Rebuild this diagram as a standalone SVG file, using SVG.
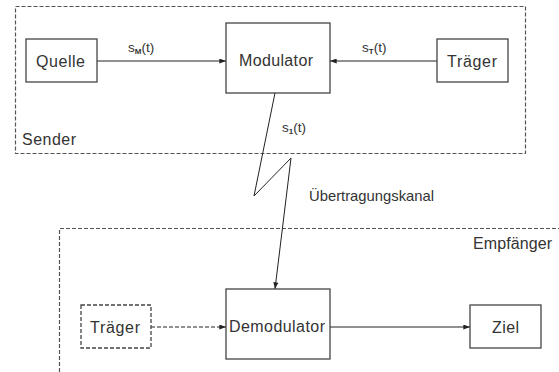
<svg xmlns="http://www.w3.org/2000/svg" width="559" height="372" viewBox="0 0 559 372">
<style>
.box{fill:#fff;stroke:#444;stroke-width:1.3}
.dbox{fill:#fff;stroke:#444;stroke-width:1.3;stroke-dasharray:4 2}
.frame{fill:none;stroke:#555;stroke-width:1.2;stroke-dasharray:4 2}
.lbl{font-family:"Liberation Sans",Arial,sans-serif;font-size:16px;fill:#333}
.sm{font-family:"Liberation Sans",Arial,sans-serif;font-size:13.5px;fill:#333}
.ch{font-family:"Liberation Sans",Arial,sans-serif;font-size:14.8px;fill:#333}
.sub{font-size:8px;font-weight:bold}
.ln{fill:none;stroke:#222;stroke-width:1}
.dl{fill:none;stroke:#222;stroke-width:1;stroke-dasharray:4 2}
</style>
<defs>
<marker id="ah" viewBox="0 0 8 6" refX="8" refY="3" markerWidth="7" markerHeight="5" orient="auto" markerUnits="userSpaceOnUse">
<path d="M0,0 L8,3 L0,6 z" fill="#222"/>
</marker>
</defs>
<rect width="559" height="372" fill="#fff"/>
<g id="sender">
<rect class="frame" x="15.5" y="6.5" width="510" height="147"/>
<text class="lbl" x="22" y="145" textLength="54">Sender</text>
</g>
<g id="empfaenger">
<path class="frame" d="M59.5,372 V228.5 H559"/>
<text class="lbl" x="473" y="249" textLength="79">Empfänger</text>
</g>
<g id="connectors">
<line class="ln" x1="97" y1="61" x2="226" y2="61" marker-end="url(#ah)"/>
<line class="ln" x1="437" y1="61" x2="330" y2="61" marker-end="url(#ah)"/>
<polyline class="ln" points="275,93 254,196 291,158 275,289" marker-end="url(#ah)"/>
<line class="dl" x1="151" y1="327" x2="226" y2="327" marker-end="url(#ah)"/>
<line class="ln" x1="330" y1="327" x2="470" y2="327" marker-end="url(#ah)"/>
<text class="sm" x="128" y="52">s<tspan class="sub" dy="2">M</tspan><tspan dy="-2">(t)</tspan></text>
<text class="sm" x="362" y="52">s<tspan class="sub" dy="2">T</tspan><tspan dy="-2">(t)</tspan></text>
<text class="sm" x="282" y="132">s<tspan class="sub" dy="2">1</tspan><tspan dy="-2">(t)</tspan></text>
<text class="ch" x="309" y="201" textLength="125">Übertragungskanal</text>
</g>
<g id="quelle">
<rect class="box" x="26" y="39" width="71" height="43"/>
<text class="lbl" x="36" y="67" textLength="49">Quelle</text>
</g>
<g id="modulator">
<rect class="box" x="226" y="23" width="104" height="70"/>
<text class="lbl" x="239" y="66" textLength="74">Modulator</text>
</g>
<g id="traeger1">
<rect class="box" x="437" y="39" width="71" height="43"/>
<text class="lbl" x="447" y="67" textLength="50">Träger</text>
</g>
<g id="traeger2">
<rect class="dbox" x="81" y="305" width="70" height="43"/>
<text class="lbl" x="90" y="333" textLength="50">Träger</text>
</g>
<g id="demodulator">
<rect class="box" x="226" y="289" width="104" height="70"/>
<text class="lbl" x="229" y="332" textLength="96">Demodulator</text>
</g>
<g id="ziel">
<rect class="box" x="470" y="305" width="71" height="43"/>
<text class="lbl" x="492" y="333" textLength="27">Ziel</text>
</g>
</svg>
